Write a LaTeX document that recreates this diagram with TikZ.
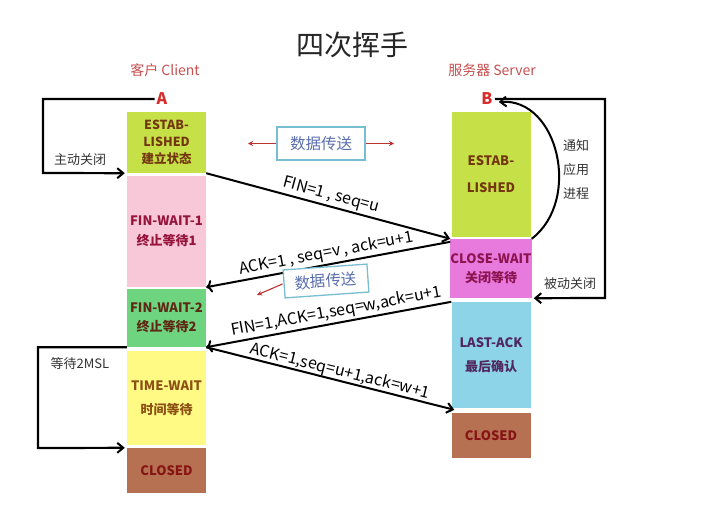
\documentclass[tikz,border=0pt]{standalone}
\usepackage{fontspec}
\setmainfont{Noto Sans CJK SC}
\usetikzlibrary{arrows.meta,calc}
\definecolor{cEst}{RGB}{198,224,72}
\definecolor{cFw1}{RGB}{248,200,216}
\definecolor{cFw2}{RGB}{110,212,128}
\definecolor{cTw}{RGB}{255,250,132}
\definecolor{cCl}{RGB}{182,112,82}
\definecolor{cCw}{RGB}{232,122,222}
\definecolor{cLa}{RGB}{142,212,232}
\definecolor{tEst}{RGB}{115,55,15}
\definecolor{tFw1}{RGB}{150,20,60}
\definecolor{tFw2}{RGB}{95,40,20}
\definecolor{tTw}{RGB}{140,80,20}
\definecolor{tCl}{RGB}{135,20,20}
\definecolor{tCw}{RGB}{140,20,80}
\definecolor{tLa}{RGB}{80,40,95}
\definecolor{cRed}{RGB}{215,45,45}
\definecolor{cSide}{RGB}{200,80,80}
\definecolor{cDbox}{RGB}{120,190,210}
\definecolor{cDtext}{RGB}{90,110,175}
\definecolor{cDarrow}{RGB}{190,50,50}
\tikzset{
  statebox/.style={minimum width=79pt, inner sep=0pt, align=center, font=\fontsize{12.5}{17}\selectfont\bfseries},
  msg/.style={line width=2pt, -{Straight Barb[length=6pt,width=10pt,line width=2pt]}},
  loopline/.style={line width=2.2pt, -{Straight Barb[length=6pt,width=10pt,line width=2pt]}, shorten >=2pt},
  msglabel/.style={font=\fontsize{16}{18}\selectfont, inner sep=2pt},
  sidelabel/.style={font=\fontsize{13}{15}\selectfont, text=black!80},
  dbox/.style={draw=cDbox, line width=1.3pt, fill=white, text=cDtext, font=\fontsize{15.5}{18}\selectfont, minimum height=28pt, inner xsep=6pt},
  darrow/.style={draw=cDarrow, line width=1.1pt, -{Stealth[length=5pt,width=5pt]}},
}
\begin{document}
\begin{tikzpicture}[x=1pt,y=-1pt]
\useasboundingbox[fill=white] (0,0) rectangle (712,525);
% title
\node[font=\fontsize{28}{32}\selectfont, text=black!85] (title) at (352,45) {四次挥手};
\node[font=\fontsize{14}{16}\selectfont, text=cSide] (cli) at (165,70) {客户 Client};
\node[font=\fontsize{14}{16}\selectfont, text=cSide] (srv) at (492,70) {服务器 Server};
\node[font=\fontsize{16}{18}\selectfont\bfseries, text=cRed, inner sep=2pt] (A) at (162,99) {A};
\node[font=\fontsize{16}{18}\selectfont\bfseries, text=cRed, inner sep=2pt] (B) at (487,99) {B};
% left column
\node[statebox, fill=cEst, text=tEst, minimum height=61pt] (estL) at (166.5,142.5) {ESTAB-\\LISHED\\建立状态};
\node[statebox, fill=cFw1, text=tFw1, minimum height=111pt, font=\fontsize{13}{20}\selectfont\bfseries] (fw1) at (166.5,231.5) {FIN-WAIT-1\\终止等待1};
\node[statebox, fill=cFw2, text=tFw2, minimum height=58pt, font=\fontsize{13}{19}\selectfont\bfseries] (fw2) at (166.5,318) {FIN-WAIT-2\\终止等待2};
\node[statebox, fill=cTw, text=tTw, minimum height=94pt, font=\fontsize{13}{24}\selectfont\bfseries] (tw) at (166.5,398) {TIME-WAIT\\时间等待};
\node[statebox, fill=cCl, text=tCl, minimum height=45pt, font=\fontsize{13}{16}\selectfont\bfseries] (clL) at (166.5,470.5) {CLOSED};
% right column
\node[statebox, fill=cEst, text=tEst, minimum height=125pt, font=\fontsize{13}{27}\selectfont\bfseries] (estR) at (491,174.5) {ESTAB-\\LISHED};
\node[statebox, fill=cCw, text=tCw, minimum height=59pt, font=\fontsize{13}{19}\selectfont\bfseries] (cw) at (491,268.5) {CLOSE-WAIT\\关闭等待};
\node[statebox, fill=cLa, text=tLa, minimum height=106pt, font=\fontsize{13}{24}\selectfont\bfseries] (la) at (491,355) {LAST-ACK\\最后确认};
\node[statebox, fill=cCl, text=tCl, minimum height=45pt, font=\fontsize{13}{16}\selectfont\bfseries] (clR) at (491,435.5) {CLOSED};
% data transfer boxes
\node[dbox, minimum width=88pt, minimum height=33pt] (d1) at (321,143.5) {数据传送};
\coordinate (d1l) at (248,143.5);
\coordinate (d1r) at (394,143.5);
\draw[darrow] (d1.west) -- (d1l);
\draw[darrow] (d1.east) -- (d1r);
% messages
\draw[msg] (estL.south east) -- node[msglabel, above, sloped] {FIN=1 , seq=u} (cw.north west);
\draw[msg, <-] (fw1.south east) -- node[msglabel, above, sloped] {ACK=1 , seq=v , ack=u+1} ($(cw.north west)+(0,3)$);
\node[dbox, minimum width=84pt, rotate=4] (d2) at (326,281) {数据传送};
\coordinate (d2l) at (257,295);
\draw[darrow] ($(d2.west)+(-1,0)$) -- (d2l);
\draw[msg, <-] (fw2.south east) -- node[msglabel, above, sloped, pos=0.54] {FIN=1,ACK=1,seq=w,ack=u+1} (la.north west);
\draw[msg] (fw2.south east) -- node[msglabel, above, sloped, inner sep=0pt, pos=0.53] {ACK=1,seq=u+1,ack=w+1} ($(clR.north west)+(3,-3)$);
% client close loop
\coordinate (lc) at (43,173);
\draw[loopline] (A.west) -| (lc) -- (estL.south west);
\node[sidelabel] (l1) at (80,160) {主动关闭};
% server close loop
\coordinate (rc) at (605,298);
\draw[loopline] (B.east) -| (rc) -- (cw.south east);
\node[sidelabel] (l2) at (570,284) {被动关闭};
% notify application
\draw[line width=2pt, -{Straight Barb[length=6pt,width=10pt,line width=2pt]}] (cw.north east) .. controls (582,200) and (558,98) .. ($(B.east)+(4,3)$);
\node[sidelabel, align=center, font=\fontsize{13}{24}\selectfont] (l3) at (576,170) {通知\\应用\\进程};
% 2MSL loop
\coordinate (mc) at (38,448);
\draw[loopline] (fw2.south west) -| (mc) -- (clL.north west);
\node[sidelabel] (l4) at (80,364) {等待2MSL};
\end{tikzpicture}
\end{document}
